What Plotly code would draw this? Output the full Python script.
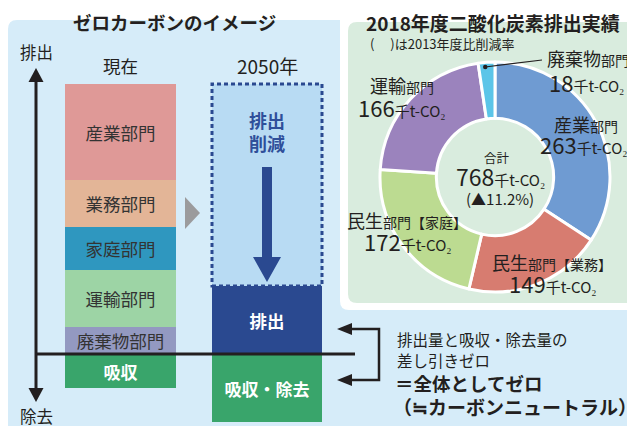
import numpy as np
import plotly.graph_objects as go

# ---------------- data ----------------
# left column "現在" (schematic heights, bottom -> top)
now_labels = ["廃棄物部門", "運輸部門", "家庭部門", "業務部門", "産業部門"]
now_values = [27, 57, 43, 47, 96]
now_absorb_label = "吸収"
now_absorb = 34

# right column "2050年"
future_emit_label = "排出"
future_emit = 68
future_cut_label = "排出<br>削減"
future_cut = 202
future_absorb_label = "吸収・除去"
future_absorb = 68

# donut: 2018 CO2 emissions (千t-CO2)
pie_labels = ["産業部門", "民生部門【業務】", "民生部門【家庭】", "運輸部門", "廃棄物部門"]
pie_values = [263, 149, 172, 166, 18]
pie_total = 768
pie_change = "▲11.2%"

# ---------------- style ----------------
FONT = "Noto Sans CJK JP"
W, H = 627, 426
ZERO = 354                      # pixel row of the net-zero line
def Y(py):                      # pixel row -> data y
    return ZERO - py

now_colors = ["#9399c1", "#9dd4a5", "#2f97bf", "#e3b597", "#df9997"]
now_text_colors = ["#333333"] * 5
absorb_color = "#39a56b"
emit_color = "#2a4990"
cut_color = "#b8dbf3"
pie_colors = ["#6f9bd2", "#d77c70", "#bcdb91", "#9b83bd", "#5cc5e8"]
BG_BLUE = "#d6ecf9"
BG_GREEN = "#d9ecde"
INK = "#231f20"

x_now, x_fut = 120.5, 267
bw_now, bw_fut = 111, 110

fig = go.Figure()

# ---------- bars ----------
now_base = np.concatenate([[0], np.cumsum(now_values)[:-1]])
fig.add_trace(go.Bar(
    x=[x_now] * len(now_values), y=now_values, base=now_base, width=bw_now,
    marker=dict(color=now_colors, line=dict(width=0)),
    text=now_labels, textposition="inside", insidetextanchor="middle",
    textangle=0, constraintext="none",
    textfont=dict(family=FONT, size=17.5, color=now_text_colors),
    hoverinfo="skip", showlegend=False))
fig.add_trace(go.Bar(
    x=[x_now], y=[-now_absorb], base=[0], width=bw_now,
    marker=dict(color=absorb_color, line=dict(width=0)),
    text=[f"<b>{now_absorb_label}</b>"], textposition="inside",
    insidetextanchor="middle", textangle=0, constraintext="none",
    textfont=dict(family=FONT, size=17, color="white"),
    hoverinfo="skip", showlegend=False))
fig.add_trace(go.Bar(
    x=[x_fut, x_fut], y=[future_emit, future_cut], base=[0, future_emit], width=bw_fut,
    marker=dict(color=[emit_color, cut_color], line=dict(width=0)),
    text=[f"<b>{future_emit_label}</b>", ""], textposition="inside",
    insidetextanchor="middle", textangle=0, constraintext="none",
    textfont=dict(family=FONT, size=17.5, color="white"),
    hoverinfo="skip", showlegend=False))
fig.add_trace(go.Bar(
    x=[x_fut], y=[-future_absorb], base=[0], width=bw_fut,
    marker=dict(color=absorb_color, line=dict(width=0)),
    text=[f"<b>{future_absorb_label}</b>"], textposition="inside",
    insidetextanchor="middle", textangle=0, constraintext="none",
    textfont=dict(family=FONT, size=17, color="white"),
    hoverinfo="skip", showlegend=False))

# ---------- donut ----------
cx, cy, R = 495, 177, 115
fig.add_trace(go.Pie(
    labels=pie_labels, values=pie_values, sort=False, direction="clockwise",
    rotation=0, hole=0.51, textinfo="none", hoverinfo="skip",
    marker=dict(colors=pie_colors, line=dict(color="white", width=3)),
    domain=dict(x=[(cx - R) / W, (cx + R) / W], y=[1 - (cy + R) / H, 1 - (cy - R) / H]),
    showlegend=False))

# ---------- shapes ----------
def rrect(x0, y0, x1, y1, r):
    # pixel coords -> rounded rect path in data coords
    a, b = Y(y0), Y(y1)
    return (f"M{x0+r},{a} L{x1-r},{a} Q{x1},{a} {x1},{a-r} L{x1},{b+r} Q{x1},{b} {x1-r},{b} "
            f"L{x0+r},{b} Q{x0},{b} {x0},{b+r} L{x0},{a-r} Q{x0},{a} {x0+r},{a} Z")

shapes = []
shapes.append(dict(type="path", path=rrect(8, 20, 650, 460, 9), fillcolor=BG_BLUE,
                   line=dict(width=0), layer="below"))
shapes.append(dict(type="path", path=rrect(340, -20, 660, 310, 9), fillcolor="white",
                   line=dict(width=0), layer="below"))
shapes.append(dict(type="path", path=rrect(348, 22, 660, 303, 9), fillcolor=BG_GREEN,
                   line=dict(width=0), layer="below"))

# dashed outline of the reduced-emission box (derived from bar data)
shapes.append(dict(type="rect", x0=x_fut - bw_fut / 2, x1=x_fut + bw_fut / 2,
                   y0=future_emit, y1=future_emit + future_cut,
                   line=dict(color=emit_color, width=3, dash="4px,3px"), layer="above"))

# vertical axis with arrowheads
shapes.append(dict(type="line", x0=36, x1=36, y0=Y(78), y1=Y(392),
                   line=dict(color=INK, width=3), layer="above"))
shapes.append(dict(type="path", path=f"M36,{Y(68)} L43.5,{Y(82)} L28.5,{Y(82)} Z",
                   fillcolor=INK, line=dict(width=0), layer="above"))
shapes.append(dict(type="path", path=f"M36,{Y(402)} L43.5,{Y(388)} L28.5,{Y(388)} Z",
                   fillcolor=INK, line=dict(width=0), layer="above"))
# net-zero horizontal line
shapes.append(dict(type="line", x0=36, x1=355, y0=0, y1=0,
                   line=dict(color=INK, width=3), layer="above"))
# bracket with arrows
shapes.append(dict(type="path",
                   path=f"M350,{Y(329)} L379,{Y(329)} L379,{Y(380)} L350,{Y(380)}",
                   line=dict(color=INK, width=2.5), layer="above"))
for py in (329, 380):
    shapes.append(dict(type="path", path=f"M337,{Y(py)} L352,{Y(py-6)} L352,{Y(py+6)} Z",
                       fillcolor=INK, line=dict(width=0), layer="above"))
# gray triangle between the columns
shapes.append(dict(type="path", path=f"M185,{Y(197)} L200,{Y(213)} L185,{Y(229)} Z",
                   fillcolor="#9b9b9d", line=dict(width=0), layer="above"))
# down arrow inside reduced box
shapes.append(dict(type="path",
                   path=(f"M262,{Y(167)} L272,{Y(167)} L272,{Y(257)} L281,{Y(257)} "
                         f"L267,{Y(282)} L253,{Y(257)} L262,{Y(257)} Z"),
                   fillcolor=emit_color, line=dict(width=0), layer="above"))
# leader line for waste sector
shapes.append(dict(type="line", x0=485, x1=542, y0=Y(67), y1=Y(60),
                   line=dict(color=INK, width=1.2), layer="above"))
shapes.append(dict(type="circle", x0=483, x1=487.5, y0=Y(64.7), y1=Y(69.2),
                   fillcolor=INK, line=dict(width=0), layer="above"))

# ---------- annotations ----------
ann = []
def T(x, py, text, size, color=INK, anchor="center", bold=False):
    ann.append(dict(x=x, y=Y(py), text=(f"<b>{text}</b>" if bold else text),
                    showarrow=False, xanchor=anchor, yanchor="middle",
                    font=dict(family=FONT, size=size, color=color)))

def S(text, size):
    return f"<span style='font-size:{size}px'>{text}</span>"

T(174, 22, "ゼロカーボンのイメージ", 18.5, bold=True)
T(36, 52, "排出", 16.5)
T(36, 416, "除去", 16.5)
T(120, 65, "現在", 17.5)
T(267, 65, "2050年", 19)
T(267, 131, future_cut_label, 18, color="#2f4f9a", bold=True)

T(395, 339, "排出量と吸収・除去量の", 15.5, anchor="left")
T(395, 360, "差し引きゼロ", 15.5, anchor="left")
T(393, 383, "＝全体としてゼロ", 18.5, anchor="left", bold=True)
T(391, 406, "（≒カーボンニュートラル）", 19, anchor="left", bold=True)

T(364, 22, "2018年度二酸化炭素排出実績", 19, anchor="left", bold=True)
T(368, 43, "(　 )は2013年度比削減率", 13, anchor="left")

unit = "千t-CO₂"
T(402, 85, "運輸" + S("部門", 14), 18)
T(402, 107, str(pie_values[3]) + S(unit, 15), 22)
T(545, 58, "廃棄物" + S("部門", 14), 18, anchor="left")
T(547, 82, str(pie_values[4]) + S(unit, 15), 22, anchor="left")
T(552, 124, "産業" + S("部門", 14), 18, anchor="left")
T(538, 144, str(pie_values[0]) + S(unit, 15), 22, anchor="left")
T(407, 220, "民生" + S("部門【家庭】", 14), 18)
T(408, 241, str(pie_values[2]) + S(unit, 15), 22)
T(552, 262, "民生" + S("部門【業務】", 14), 18)
T(553, 283, str(pie_values[1]) + S(unit, 15), 22)

T(497, 157, "合計", 12.5)
T(500, 176, str(pie_total) + S(unit, 15), 23)
T(500, 198, f"({pie_change})", 15)

fig.update_layout(
    width=W, height=H, margin=dict(l=0, r=0, t=0, b=0),
    paper_bgcolor="white", plot_bgcolor="white",
    barmode="overlay", bargap=0,
    xaxis=dict(range=[0, W], visible=False, fixedrange=True),
    yaxis=dict(range=[Y(H), Y(0)], visible=False, fixedrange=True),
    shapes=shapes, annotations=ann,
    font=dict(family=FONT, color=INK),
)

fig.write_html("out.html")
